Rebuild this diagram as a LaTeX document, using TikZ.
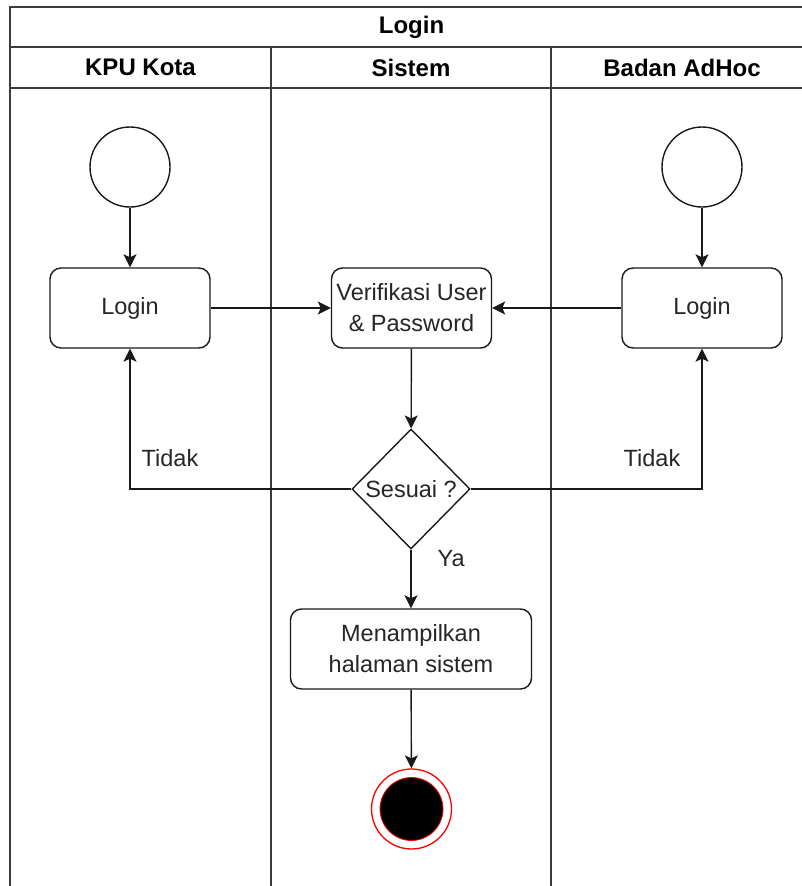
\documentclass[tikz,border=0pt]{standalone}
\usepackage{fontspec}
\setmainfont{Liberation Sans}
\usetikzlibrary{shapes.geometric,arrows.meta}
\definecolor{txt}{HTML}{262626}
\definecolor{ln}{HTML}{1A1A1A}
\begin{document}
\begin{tikzpicture}[x=1pt,y=-1pt,
  every node/.style={font=\fontsize{23.5}{31}\selectfont, text=txt},
  act/.style={draw=ln, line width=1.4pt, rounded corners=11pt, minimum width=160pt, minimum height=80pt, inner sep=0pt, align=center, fill=white},
  startnode/.style={circle, draw=ln, line width=1.4pt, minimum size=80pt, inner sep=0pt, fill=white},
  flow/.style={draw=ln, line width=1.4pt, -{Stealth[length=13pt,width=13pt,inset=3pt]}},
  lane/.style={draw=ln!85, line width=1.8pt},
  head/.style={font=\fontsize{24}{30}\selectfont\bfseries, text=black},
  lbl/.style={inner sep=0pt}
]
\useasboundingbox (0,0) rectangle (802,886);
\clip (0,0) rectangle (802,886);
\fill[white] (0,0) rectangle (802,886);
% pool and lanes
\draw[lane] (10,7) rectangle (813,900);
\draw[lane] (10,47) -- (813,47);
\draw[lane] (10,88) -- (813,88);
\draw[lane] (271,47) -- (271,900);
\draw[lane] (551,47) -- (551,900);
\node[head] (title) at (411.5,27) {Login};
\node[head] (h1) at (140.5,67.5) {KPU Kota};
\node[head] (h2) at (411,67.5) {Sistem};
\node[head] (h3) at (682,67.5) {Badan AdHoc};
% nodes
\node[startnode] (s1) at (130,167) {};
\node[startnode] (s2) at (702,167) {};
\node[act] (login1) at (130,308) {Login};
\node[act] (verif) at (411.5,308) {Verifikasi User\\\& Password};
\node[act] (login2) at (702,308) {Login};
\node[diamond, draw=ln, line width=1.4pt, minimum width=118pt, minimum height=120pt, inner sep=0pt, fill=white, label={center:Sesuai ?}] (dia) at (411,489) {};
\node[act] (show) at (411,649) [minimum width=241pt] {Menampilkan\\halaman sistem};
\node[circle, draw=red, line width=1.3pt, fill=white, minimum size=80pt, inner sep=0pt] (end) at (411.5,809) {};
\node[circle, draw=red, line width=0.8pt, fill=black, minimum size=63pt, inner sep=0pt] (endin) at (end) {};
% connectors
\draw[flow] (s1) -- (login1);
\draw[flow] (s2) -- (login2);
\draw[flow] (login1) -- (verif);
\draw[flow] (login2) -- (verif);
\draw[flow] (verif) -- (dia);
\draw[flow] (dia.west) -| node[lbl, pos=0.61, anchor=west, xshift=11pt] (t1) {Tidak} (login1.south);
\draw[flow] (dia.east) -| node[lbl, pos=0.61, anchor=east, xshift=-21pt] (t2) {Tidak} (login2.south);
\draw[flow] (dia.south) -- node[lbl, pos=0.15, anchor=west, xshift=26pt] (ya) {Ya} (show.north);
\draw[flow] (show) -- (end);
\end{tikzpicture}
\end{document}
